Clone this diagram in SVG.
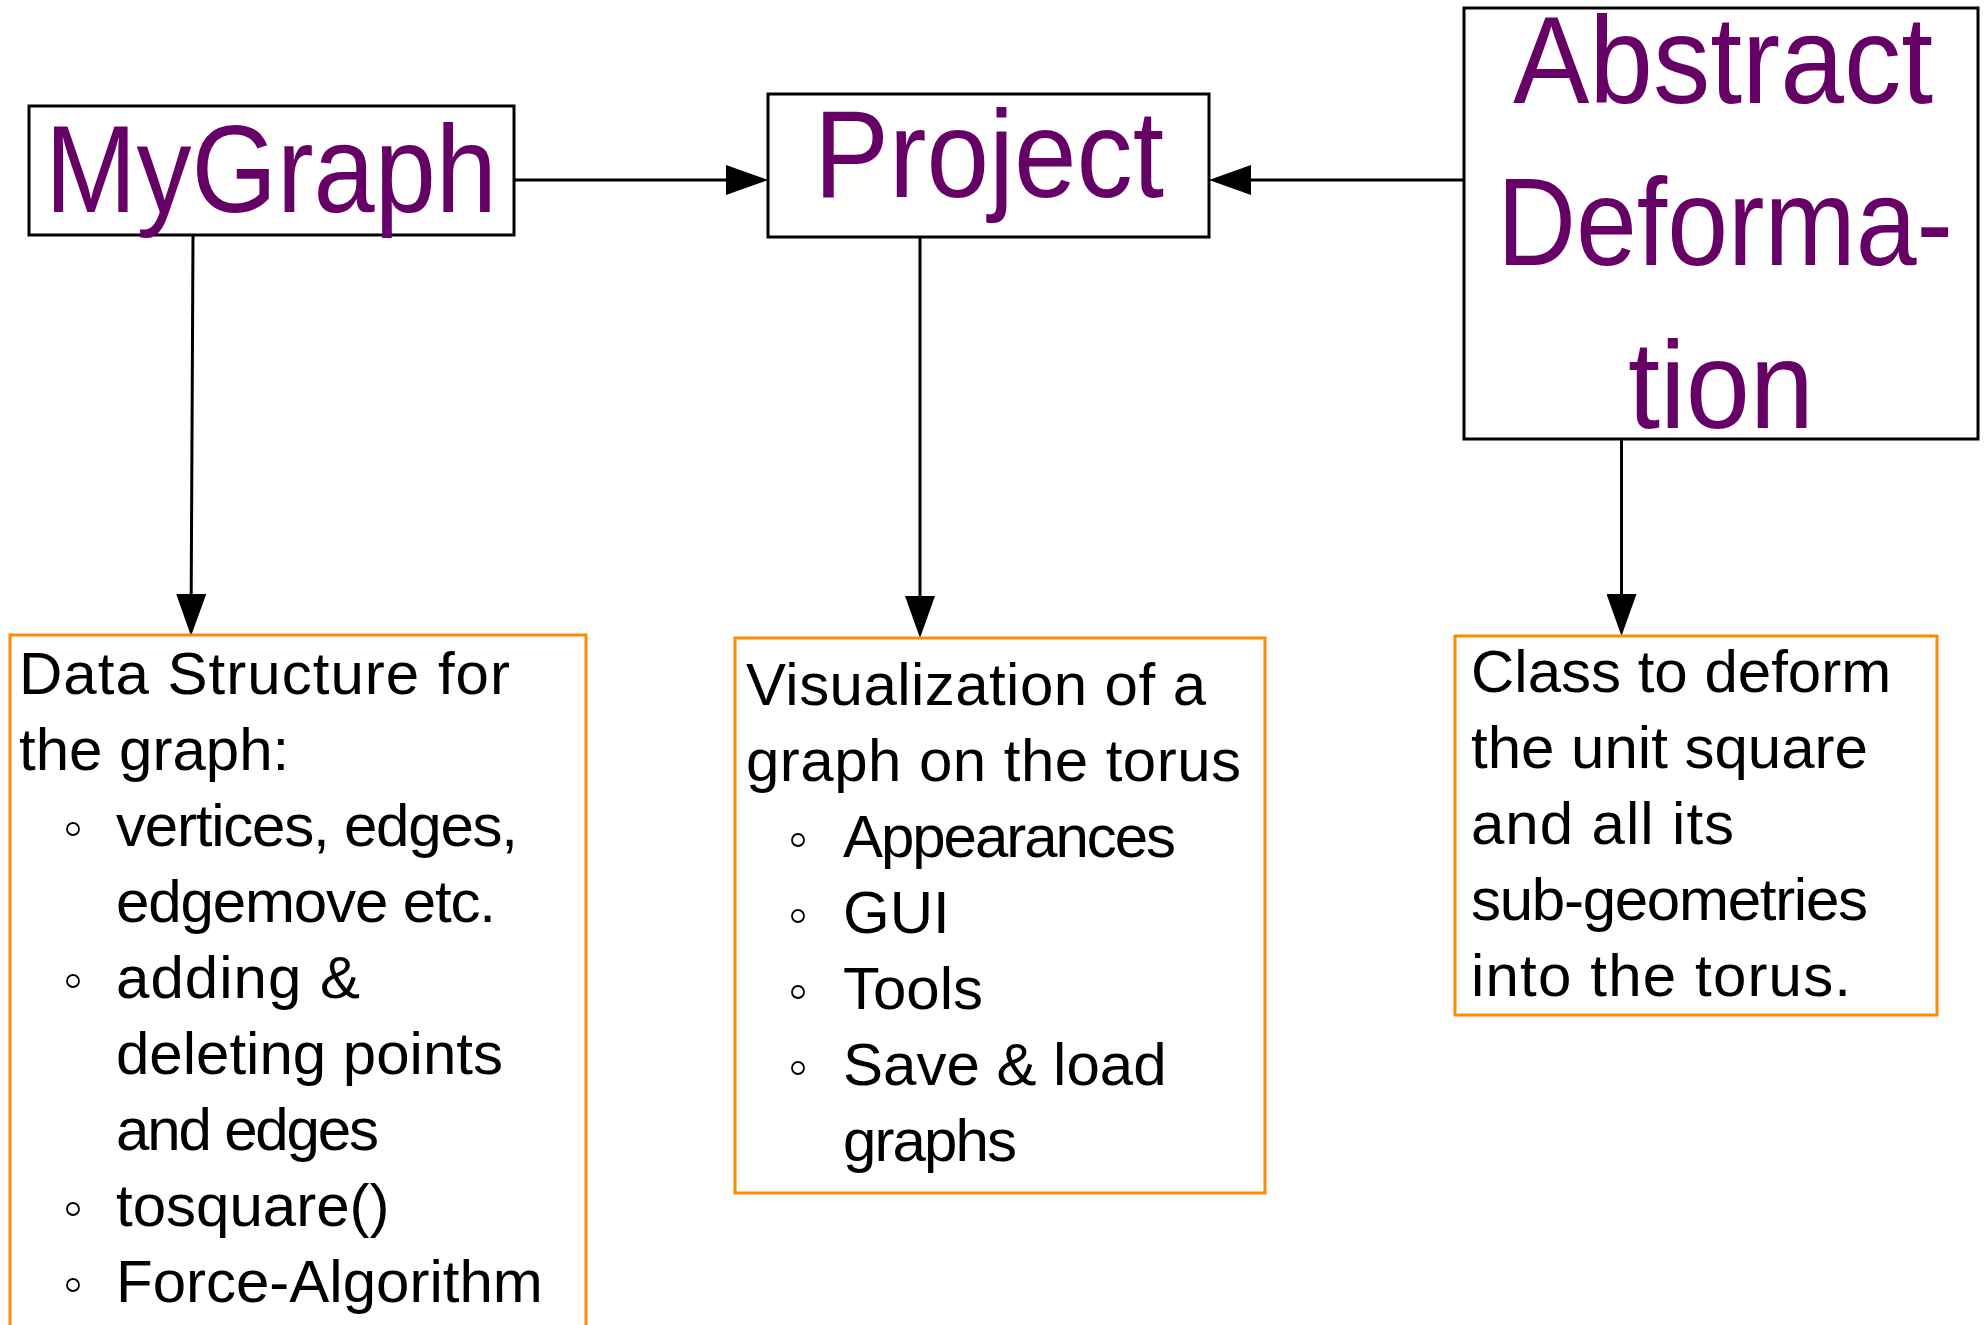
<svg xmlns="http://www.w3.org/2000/svg" width="1988" height="1325" viewBox="0 0 1988 1325">
  <style>
    .cls { fill: #ffffff; stroke: #000000; stroke-width: 3; }
    .note { fill: #ffffff; stroke: #ff8c00; stroke-width: 3; }
    .title { font-family: "Liberation Sans", Arial, sans-serif; font-size: 124px; fill: #660066; text-anchor: middle; }
    .body { font-family: "Liberation Sans", Arial, sans-serif; font-size: 60px; fill: #000000; }
    .bullet { fill: none; stroke: #000000; stroke-width: 1.8; }
    .edge { fill: none; stroke: #000000; stroke-width: 3; }
  </style>
  <defs>
    <marker id="arrow" markerUnits="userSpaceOnUse" markerWidth="42" markerHeight="30" viewBox="0 0 42 30" refX="0" refY="15" orient="auto">
      <path d="M0,0 L42,15 L0,30 Z" fill="#000000"/>
    </marker>
  </defs>

  <rect width="1988" height="1325" fill="#ffffff"/>

  <!-- connectors: lines stop at the arrowhead base, the marker carries the tip -->
  <g id="connectors">
    <line class="edge" x1="514" y1="180" x2="726" y2="180" marker-end="url(#arrow)"/>
    <line class="edge" x1="1464" y1="180" x2="1251" y2="180" marker-end="url(#arrow)"/>
    <line class="edge" x1="193" y1="235" x2="191.2" y2="594" marker-end="url(#arrow)"/>
    <line class="edge" x1="920" y1="237" x2="920" y2="596" marker-end="url(#arrow)"/>
    <line class="edge" x1="1621.5" y1="439" x2="1621.5" y2="594" marker-end="url(#arrow)"/>
  </g>

  <!-- class nodes -->
  <g id="mygraph">
    <rect class="cls" x="29" y="106" width="485" height="129"/>
    <text class="title" x="271" y="212" textLength="452" lengthAdjust="spacingAndGlyphs">MyGraph</text>
  </g>

  <g id="project">
    <rect class="cls" x="768" y="94" width="441" height="143"/>
    <text class="title" x="989" y="197" textLength="350" lengthAdjust="spacingAndGlyphs">Project</text>
  </g>

  <g id="abstract-deformation">
    <rect class="cls" x="1464" y="8" width="514" height="431"/>
    <text class="title" x="1723" y="103" textLength="420" lengthAdjust="spacingAndGlyphs">Abstract</text>
    <text class="title" x="1725" y="265" textLength="456" lengthAdjust="spacingAndGlyphs">Deforma-</text>
    <text class="title" x="1721" y="428" textLength="186" lengthAdjust="spacingAndGlyphs">tion</text>
  </g>

  <!-- description notes -->
  <g id="mygraph-note">
    <rect class="note" x="10" y="635" width="576" height="720"/>
    <text class="body" x="19" y="694" textLength="491">Data Structure for</text>
    <text class="body" x="19" y="770">the graph:</text>
    <circle class="bullet" cx="73" cy="829" r="6"/>
    <text class="body" x="116" y="846" textLength="402">vertices, edges,</text>
    <text class="body" x="116" y="922" textLength="380">edgemove etc.</text>
    <circle class="bullet" cx="73" cy="981" r="6"/>
    <text class="body" x="116" y="998" textLength="244">adding &amp;</text>
    <text class="body" x="116" y="1074">deleting points</text>
    <text class="body" x="116" y="1150" textLength="263">and edges</text>
    <circle class="bullet" cx="73" cy="1209" r="6"/>
    <text class="body" x="116" y="1226">tosquare()</text>
    <circle class="bullet" cx="73" cy="1285" r="6"/>
    <text class="body" x="116" y="1302">Force-Algorithm</text>
  </g>

  <g id="project-note">
    <rect class="note" x="735" y="638" width="530" height="555"/>
    <text class="body" x="746" y="705" textLength="460">Visualization of a</text>
    <text class="body" x="746" y="781" textLength="495">graph on the torus</text>
    <circle class="bullet" cx="798" cy="840" r="6"/>
    <text class="body" x="843" y="857" textLength="333">Appearances</text>
    <circle class="bullet" cx="798" cy="916" r="6"/>
    <text class="body" x="843" y="933">GUI</text>
    <circle class="bullet" cx="798" cy="992" r="6"/>
    <text class="body" x="843" y="1009">Tools</text>
    <circle class="bullet" cx="798" cy="1068" r="6"/>
    <text class="body" x="843" y="1085">Save &amp; load</text>
    <text class="body" x="843" y="1161" textLength="174">graphs</text>
  </g>

  <g id="deformation-note">
    <rect class="note" x="1455" y="636" width="482" height="379"/>
    <text class="body" x="1471" y="692">Class to deform</text>
    <text class="body" x="1471" y="768">the unit square</text>
    <text class="body" x="1471" y="844" textLength="263">and all its</text>
    <text class="body" x="1471" y="920" textLength="397">sub-geometries</text>
    <text class="body" x="1471" y="996" textLength="380">into the torus.</text>
  </g>
</svg>
